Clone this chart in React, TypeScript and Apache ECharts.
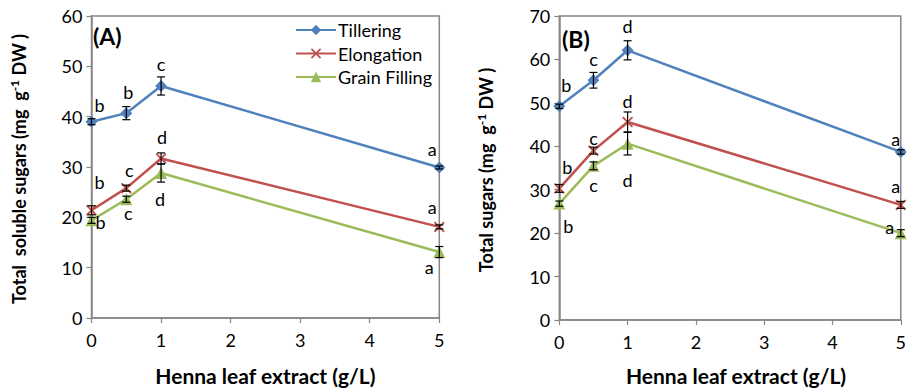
import React, { useEffect, useRef } from "react";
import * as echarts from "echarts";

// ---- data ----
const doses = [0, 0.5, 1, 5];
const xTicks = [0, 1, 2, 3, 4, 5];

// Panel A: Total soluble sugars
const tilleringA = [39.0, 40.7, 46.1, 29.9];
const elongationA = [21.4, 25.8, 31.7, 18.1];
const grainA = [19.4, 23.6, 28.8, 13.1];
const tilleringAErr = [0.6, 1.3, 1.8, 0.3];
const elongationAErr = [0.9, 0.6, 1.1, 0.4];
const grainAErr = [0.6, 0.6, 1.8, 1.1];
const tilleringALetters = ["b", "b", "c", "a"];
const elongationALetters = ["b", "c", "d", "a"];
const grainALetters = ["b", "c", "d", "a"];

// Panel B: Total sugars
const tilleringB = [49.2, 55.2, 62.1, 38.7];
const elongationB = [30.3, 39.0, 45.6, 26.5];
const grainB = [26.8, 35.5, 40.6, 20.0];
const tilleringBErr = [0.5, 1.8, 2.2, 0.5];
const elongationBErr = [0.9, 0.8, 2.3, 0.8];
const grainBErr = [0.6, 0.9, 2.6, 0.8];
const tilleringBLetters = ["b", "c", "d", "a"];
const elongationBLetters = ["b", "c", "d", "a"];
const grainBLetters = ["b", "c", "d", "a"];

const seriesNames = ["Tillering", "Elongation", "Grain Filling"];

// ---- layout / style (pixel offsets of the letters relative to points) ----
const tilleringAOff = [[8, -17], [2, -21], [0, -22], [-7, -19]];
const elongationAOff = [[8, -28], [3, -18], [1, -21], [-7, -20]];
const grainAOff = [[9, 2], [2, 14], [-1, 26], [-10, 15]];
const tilleringBOff = [[7, -21], [0, -21], [0, -24], [-5, -13]];
const elongationBOff = [[8, -21], [0, -13], [0, -21], [-5, -19]];
const grainBOff = [[9, 22], [0, 19], [0, 36], [-11, -6]];

const COLORS = ["#4F81BD", "#C0504D", "#9BBB59"];
const X_SYMBOL = "path://M0,1.2 L1.2,0 L10,8.8 L8.8,10 Z M8.8,0 L10,1.2 L1.2,10 L0,8.8 Z";
const SYMBOLS = ["diamond", X_SYMBOL, "triangle"];
const SYMBOL_SIZES = [12, 11, 12];
const FONT = "Lato, 'Open Sans', sans-serif";
const AXIS_GRAY = "#868686";

function lineSeries(name: string, idx: number, vals: number[], letters: string[], offs: number[][], axis: number) {
  return {
    type: "line",
    name,
    xAxisIndex: axis,
    yAxisIndex: axis,
    clip: false,
    z: 3,
    symbol: SYMBOLS[idx],
    symbolSize: SYMBOL_SIZES[idx],
    lineStyle: { color: COLORS[idx], width: 2.5 },
    itemStyle: { color: COLORS[idx] },
    data: doses.map((d, i) => ({
      value: [d, vals[i]],
      label: {
        show: true,
        formatter: letters[i],
        position: "inside",
        offset: offs[i],
        color: "#000",
        fontSize: 18,
        fontFamily: FONT,
      },
    })),
  };
}

function errSeries(name: string, vals: number[], errs: number[], axis: number) {
  return {
    type: "custom",
    name: name + " err",
    xAxisIndex: axis,
    yAxisIndex: axis,
    clip: false,
    z: 5,
    silent: true,
    encode: { x: 0, y: [1, 2] },
    data: doses.map((d, i) => [d, vals[i] - errs[i], vals[i] + errs[i]]),
    renderItem: (params: any, api: any) => {
      const x = api.value(0);
      const lo = api.coord([x, api.value(1)]);
      const hi = api.coord([x, api.value(2)]);
      const w = 4;
      const st = { stroke: "#000", lineWidth: 1.2 };
      return {
        type: "group",
        children: [
          { type: "line", shape: { x1: lo[0], y1: lo[1], x2: hi[0], y2: hi[1] }, style: st },
          { type: "line", shape: { x1: lo[0] - w, y1: lo[1], x2: lo[0] + w, y2: lo[1] }, style: st },
          { type: "line", shape: { x1: hi[0] - w, y1: hi[1], x2: hi[0] + w, y2: hi[1] }, style: st },
        ],
      };
    },
  };
}

function xAxis(gridIndex: number) {
  return {
    type: "value",
    gridIndex,
    min: xTicks[0],
    max: xTicks[xTicks.length - 1],
    interval: 1,
    axisLine: { show: true, lineStyle: { color: AXIS_GRAY, width: 1.5 } },
    axisTick: { show: true, length: 5, lineStyle: { color: AXIS_GRAY, width: 1.2 } },
    axisLabel: { color: "#000", fontSize: 18, fontFamily: FONT, margin: 13 },
    splitLine: { show: false },
  };
}

function yAxis(gridIndex: number, max: number) {
  return {
    type: "value",
    gridIndex,
    min: 0,
    max,
    interval: 10,
    axisLine: { show: true, lineStyle: { color: AXIS_GRAY, width: 1.5 } },
    axisTick: { show: true, length: 5, lineStyle: { color: AXIS_GRAY, width: 1.2 } },
    axisLabel: { color: "#000", fontSize: 18, fontFamily: FONT, margin: 9 },
    splitLine: { show: false },
  };
}

const richTitle = {
  b: { fontSize: 18, fontWeight: "bold", fontFamily: FONT, color: "#000", lineHeight: 22 },
  sup: { fontSize: 12, fontWeight: "bold", fontFamily: FONT, color: "#000", lineHeight: 12, verticalAlign: "top" },
};

export default function App() {
  const ref = useRef<HTMLDivElement>(null);
  useEffect(() => {
    document.body.style.margin = "0";
    const chart = echarts.init(ref.current!, null, { renderer: "svg" });
    chart.setOption({
      animation: false,
      backgroundColor: "#fff",
      textStyle: { fontFamily: FONT },
      grid: [
        { left: 91.5, top: 16, width: 347.8, height: 311, show: true, borderColor: AXIS_GRAY, borderWidth: 1.5 },
        { left: 559.3, top: 16, width: 349, height: 311.3, show: true, borderColor: AXIS_GRAY, borderWidth: 1.5 },
      ],
      xAxis: [
        { ...xAxis(0), name: "Henna leaf extract (g/L)", nameLocation: "middle", nameGap: 47, nameTextStyle: { fontSize: 21, fontWeight: "bold", color: "#000", fontFamily: FONT } },
        { ...xAxis(1), name: "Henna leaf extract (g/L)", nameLocation: "middle", nameGap: 45, nameTextStyle: { fontSize: 21, fontWeight: "bold", color: "#000", fontFamily: FONT, padding: [0, 0, 0, 12] } },
      ],
      yAxis: [yAxis(0, 60), yAxis(1, 70)],
      legend: {
        left: 290,
        top: 15,
        orient: "vertical",
        itemWidth: 40,
        itemHeight: 13,
        itemGap: 3.5,
        data: seriesNames,
        textStyle: { fontSize: 18, color: "#000", fontFamily: FONT, lineHeight: 20, padding: [0, 0, 0, -3] },
      },
      graphic: [
        { type: "text", left: 93, top: 24, style: { text: "(A)", fontSize: 23, fontWeight: "bold", fill: "#000", fontFamily: FONT } },
        { type: "text", left: 562, top: 27, style: { text: "(B)", fontSize: 23, fontWeight: "bold", fill: "#000", fontFamily: FONT } },
        {
          type: "text",
          x: 19,
          y: 169,
          rotation: Math.PI / 2,
          style: {
            text: "{b|Total  soluble sugars (mg  g}{sup|-1}{b| DW )}",
            rich: richTitle,
            align: "center",
            verticalAlign: "middle",
          },
        },
        {
          type: "text",
          x: 486,
          y: 170,
          rotation: Math.PI / 2,
          style: {
            text: "{b|Total sugars (mg  g}{sup|-1}{b| DW )}",
            rich: richTitle,
            align: "center",
            verticalAlign: "middle",
          },
        },
      ],
      series: [
        lineSeries(seriesNames[0], 0, tilleringA, tilleringALetters, tilleringAOff, 0),
        lineSeries(seriesNames[1], 1, elongationA, elongationALetters, elongationAOff, 0),
        lineSeries(seriesNames[2], 2, grainA, grainALetters, grainAOff, 0),
        errSeries(seriesNames[0], tilleringA, tilleringAErr, 0),
        errSeries(seriesNames[1], elongationA, elongationAErr, 0),
        errSeries(seriesNames[2], grainA, grainAErr, 0),
        lineSeries(seriesNames[0], 0, tilleringB, tilleringBLetters, tilleringBOff, 1),
        lineSeries(seriesNames[1], 1, elongationB, elongationBLetters, elongationBOff, 1),
        lineSeries(seriesNames[2], 2, grainB, grainBLetters, grainBOff, 1),
        errSeries(seriesNames[0], tilleringB, tilleringBErr, 1),
        errSeries(seriesNames[1], elongationB, elongationBErr, 1),
        errSeries(seriesNames[2], grainB, grainBErr, 1),
      ],
    });
    return () => chart.dispose();
  }, []);
  return <div ref={ref} style={{ position: "fixed", left: 0, top: 0, width: 909, height: 391 }} />;
}
